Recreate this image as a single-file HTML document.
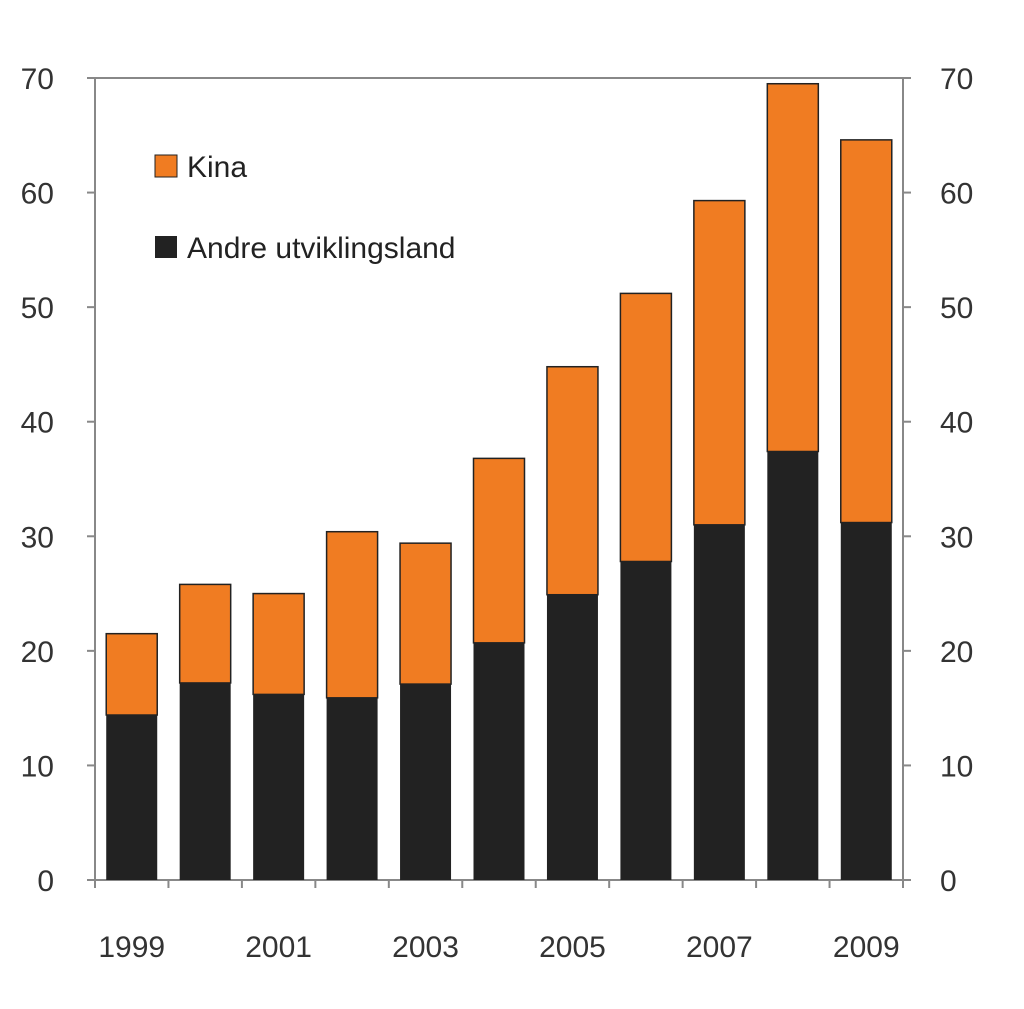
<!DOCTYPE html>
<html><head><meta charset="utf-8"><style>
html,body{margin:0;padding:0;background:#fff;}
svg{display:block;font-family:"Liberation Sans",sans-serif;}
</style></head><body>
<svg id="chart" width="1024" height="1009">
<g id="axes"></g><g id="bars"></g>
<g>
<rect x="155" y="155" width="22" height="22" fill="#f07c22" stroke="#222" stroke-width="1"/>
<text x="187" y="177" font-size="30" fill="#222">Kina</text>
<rect x="155" y="236" width="22" height="22" fill="#222"/>
<text x="187" y="258" font-size="30" fill="#222">Andre utviklingsland</text>
</g>
</svg>
<script>
const years = [1999,2000,2001,2002,2003,2004,2005,2006,2007,2008,2009];
const andre = [14.4,17.2,16.2,15.9,17.1,20.7,24.9,27.8,31.0,37.4,31.2];
const kina = [7.1,8.6,8.8,14.5,12.3,16.1,19.9,23.4,28.3,32.1,33.4];
const yTicks = [0,10,20,30,40,50,60,70];
const xLabels = ["1999","2001","2003","2005","2007","2009"];
const NS="http://www.w3.org/2000/svg";
const L=95,R=903,Y0=880,Y70=78;
const y=v=>Y0-(v/70)*(Y0-Y70);
const slot=(R-L)/years.length;
const axes=document.getElementById('axes'),bars=document.getElementById('bars');
function mk(tag,at,parent){const e=document.createElementNS(NS,tag);for(const k in at)e.setAttribute(k,at[k]);parent.appendChild(e);return e;}
let e;
e=mk('line',{x1:L,y1:Y70,x2:R,y2:Y70,stroke:'#888','stroke-width':2},axes);


e=mk('line',{x1:L,y1:Y70,x2:L,y2:Y0,stroke:'#888','stroke-width':2},axes);


e=mk('line',{x1:R,y1:Y70,x2:R,y2:Y0,stroke:'#888','stroke-width':2},axes);


e=mk('line',{x1:L-8,y1:Y0,x2:R+8,y2:Y0,stroke:'#888','stroke-width':2},axes);


yTicks.forEach(t=>{
  const yy=y(t);
  e=mk('line',{x1:L-8,y1:yy,x2:L,y2:yy,stroke:'#888','stroke-width':2},axes);
  
  
  e=mk('line',{x1:R,y1:yy,x2:R+8,y2:yy,stroke:'#888','stroke-width':2},axes);
  
  
  e=mk('text',{x:54,y:yy+11,'font-size':30,fill:'#333','text-anchor':'end'},axes);e.textContent=t;
  
  
  e=mk('text',{x:940,y:yy+11,'font-size':30,fill:'#333'},axes);e.textContent=t;
  
  
});
for(let i=0;i<=years.length;i++){
  e=mk('line',{x1:L+i*slot,y1:Y0,x2:L+i*slot,y2:Y0+8,stroke:'#888','stroke-width':2},axes);
  
  
}
xLabels.forEach(lab=>{
  const i=years.indexOf(+lab);
  e=mk('text',{x:L+(i+0.5)*slot,y:957,'font-size':30,fill:'#333','text-anchor':'middle'},axes);e.textContent=lab;
  
  
});
const bw=51;
years.forEach((yr,i)=>{
  const x=L+(i+0.5)*slot-bw/2;
  const tot=andre[i]+kina[i];
  e=mk('rect',{x:x,y:y(andre[i]),width:bw,height:Y0-y(andre[i]),fill:'#222'},bars);
  
  
  e=mk('rect',{x:x,y:y(tot),width:bw,height:y(andre[i])-y(tot),fill:'#f07c22',stroke:'#222','stroke-width':1.5},bars);
  
  
});
</script>
</body></html>
